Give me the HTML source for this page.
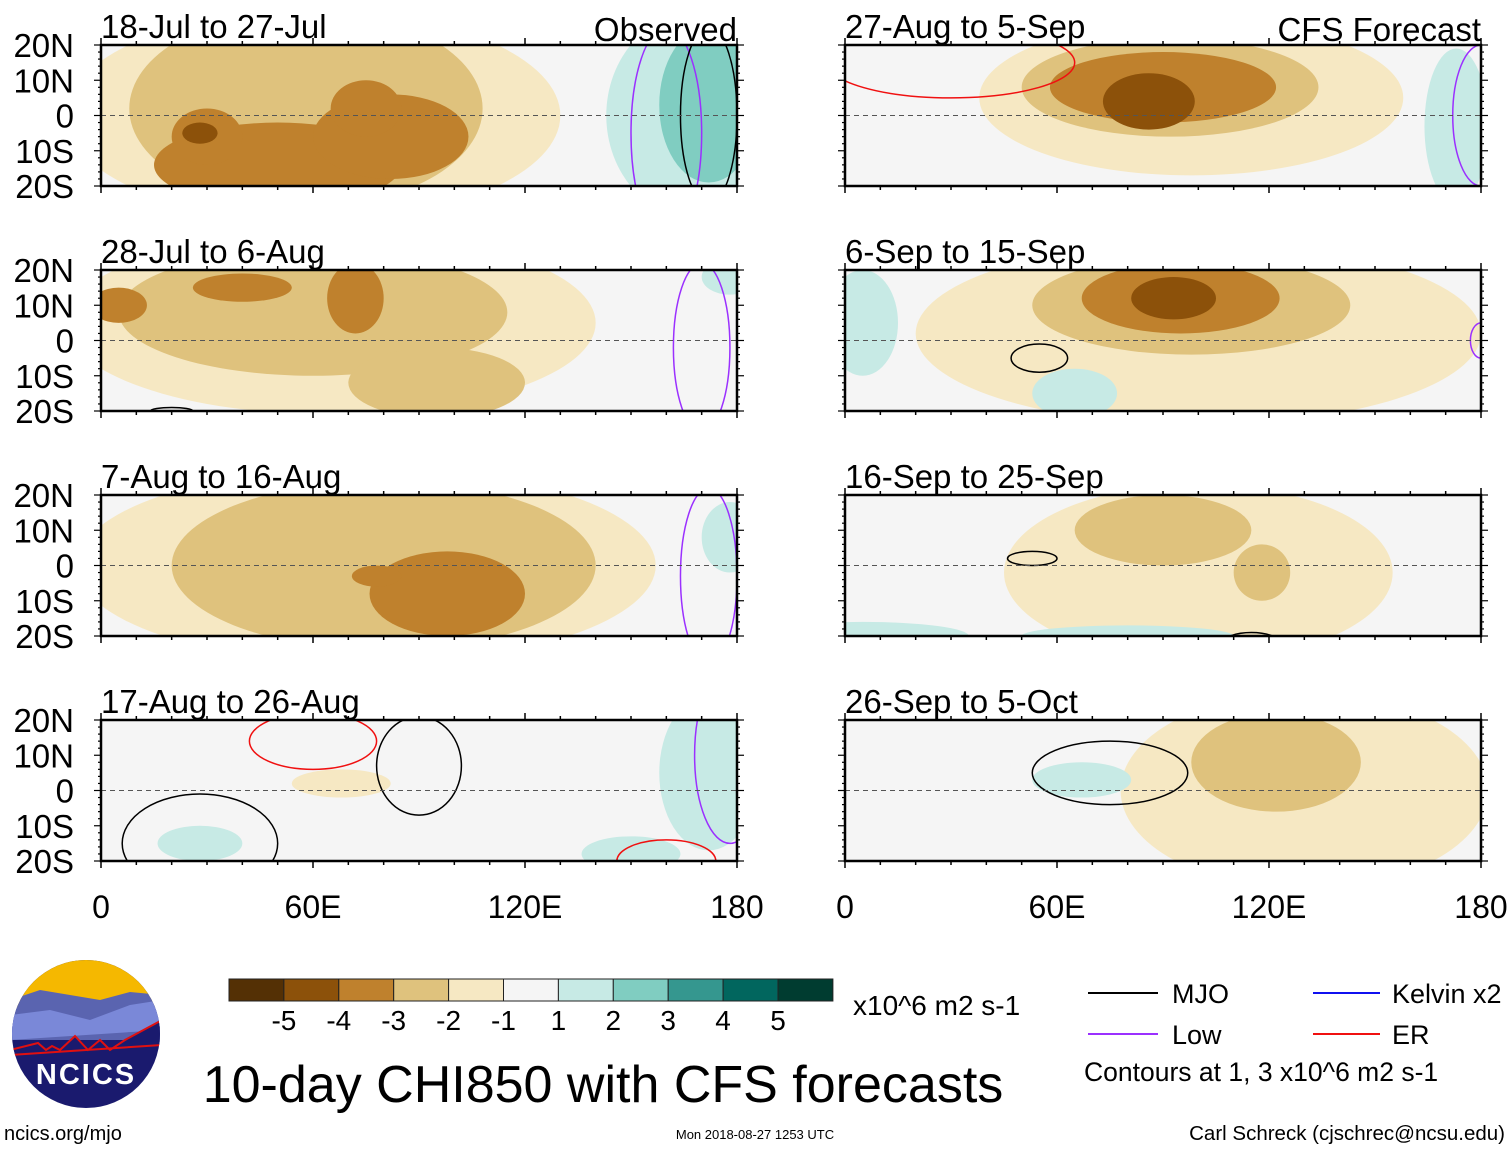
<!DOCTYPE html>
<html><head><meta charset="utf-8">
<style>
html,body{margin:0;padding:0;background:#fff;}
svg{display:block;font-family:"Liberation Sans",sans-serif;}
</style></head>
<body>
<svg id="chart" width="1510" height="1149" viewBox="0 0 1510 1149" xmlns="http://www.w3.org/2000/svg">
<g id="panels"></g>
<g id="colorbar"></g>

<text x="4" y="1140" font-size="20" fill="#000">ncics.org/mjo</text>
<g>
  <clipPath id="logoclip"><circle cx="86" cy="1034" r="74"/></clipPath>
  <g clip-path="url(#logoclip)">
    <rect x="10" y="958" width="152" height="152" fill="#1a1a6e"/>
    <rect x="10" y="958" width="152" height="50" fill="#f5b800"/>
    <path d="M10,1000 L40,990 L70,995 L100,1000 L130,992 L162,995 L162,1040 L10,1040Z" fill="#5a64b0"/>
    <path d="M10,1015 L50,1010 L90,1020 L130,1005 L162,1000 L162,1030 L10,1040Z" fill="#7a88d8"/>
    <path d="M10,1050 L38,1043 L46,1050 L52,1046 L60,1050 L75,1036 L88,1050 L100,1040 L110,1050 L125,1040 L162,1020 L162,1045 L10,1055Z" fill="#1a1a6e" stroke="#e01010" stroke-width="2"/>
  </g>
  <text x="86" y="1084" font-size="29" font-weight="bold" fill="#fff" text-anchor="middle" letter-spacing="2">NCICS</text>
</g>

<text x="603" y="1102" font-size="52" text-anchor="middle" fill="#000">10-day CHI850 with CFS forecasts</text>
<text x="853" y="1015" font-size="28" fill="#000">x10^6 m2 s-1</text>

<g>
  <line x1="1088" y1="993" x2="1158" y2="993" stroke="#000" stroke-width="2"/>
  <text x="1172" y="1003" font-size="27">MJO</text>
  <line x1="1313" y1="993" x2="1380" y2="993" stroke="#1010f0" stroke-width="2"/>
  <text x="1392" y="1003" font-size="27">Kelvin x2</text>
  <line x1="1088" y1="1034" x2="1158" y2="1034" stroke="#9b30ff" stroke-width="2"/>
  <text x="1172" y="1044" font-size="27">Low</text>
  <line x1="1313" y1="1034" x2="1380" y2="1034" stroke="#f01010" stroke-width="2"/>
  <text x="1392" y="1044" font-size="27">ER</text>
  <text x="1084" y="1081" font-size="26.5">Contours at 1, 3 x10^6 m2 s-1</text>
</g>
<text x="755" y="1139" font-size="13" text-anchor="middle">Mon 2018-08-27 1253 UTC</text>
<text x="1505" y="1140" font-size="20.5" text-anchor="end">Carl Schreck (cjschrec@ncsu.edu)</text>
</svg>
<script>
const levelColors = ["#543005","#8c510a","#bf812d","#dfc27d","#f6e8c3","#f5f5f5","#c7eae5","#80cdc1","#35978f","#01665e","#003c30"];
const levelLabels = ["-5","-4","-3","-2","-1","1","2","3","4","5"];
const panelTitles = ["18-Jul to 27-Jul","28-Jul to 6-Aug","7-Aug to 16-Aug","17-Aug to 26-Aug","27-Aug to 5-Sep","6-Sep to 15-Sep","16-Sep to 25-Sep","26-Sep to 5-Oct"];
const latTicks = [20,10,0,-10,-20];
const latLabels = ["20N","10N","0","10S","20S"];
const lonTicks = [0,60,120,180];
const lonLabels = ["0","60E","120E","180"];
// blobs: [lonCenter, latCenter, lonRadius, latRadius, level(-4..2)]
const anomP1 = [[60,0,70,30,-1],[58,2,50,28,-2],[50,-14,35,12,-3],[82,-6,22,12,-3],[75,2,10,8,-3],[30,-6,10,8,-3],[28,-5,5,3,-4],[170,0,27,30,1],[172,3,14,22,2]];
const anomP2 = [[65,5,75,26,-1],[60,8,55,18,-2],[95,-12,25,10,-2],[5,10,8,5,-3],[72,12,8,10,-3],[40,15,14,4,-3],[178,18,8,5,1]];
const anomP3 = [[75,0,82,28,-1],[80,0,60,24,-2],[98,-8,22,12,-3],[78,-3,7,3,-3],[178,8,8,10,1]];
const anomP4 = [[68,2,14,4,-1],[172,5,14,22,1],[150,-18,14,5,1],[28,-15,12,5,1]];
const anomP5 = [[98,5,60,22,-1],[92,8,42,14,-2],[90,8,32,10,-3],[86,4,13,8,-4],[173,-3,9,22,1]];
const anomP6 = [[100,2,80,26,-1],[98,10,45,14,-2],[95,12,28,10,-3],[93,12,12,6,-4],[5,5,10,15,1],[65,-15,12,7,1]];
const anomP7 = [[100,-2,55,25,-1],[90,10,25,10,-2],[118,-2,8,8,-2],[5,-20,30,4,1],[80,-20,30,3,1]];
const anomP8 = [[130,0,52,28,-1],[122,8,24,14,-2],[67,3,14,5,1]];
const anomalies = [anomP1,anomP2,anomP3,anomP4,anomP5,anomP6,anomP7,anomP8];
// contours: [lonCenter, latCenter, lonRadius, latRadius, colour-key]
const contours = [
 [[160,-5,10,30,"low"],[172,0,8,25,"mjo"],[120,-22,3,2,"er"]],
 [[170,-2,8,24,"low"],[20,-20,6,1,"mjo"]],
 [[172,-3,8,25,"low"]],
 [[90,7,12,14,"mjo"],[60,14,18,8,"er"],[28,-15,22,14,"mjo"],[178,10,10,25,"low"],[160,-20,14,6,"er"]],
 [[30,15,35,10,"er"],[180,0,8,20,"low"]],
 [[55,-5,8,4,"mjo"],[180,0,3,5,"low"]],
 [[53,2,7,2,"mjo"],[115,-22,8,3,"mjo"]],
 [[75,5,22,9,"mjo"]]
];
const contourColors = {mjo:"#000", low:"#9b30ff", er:"#f01010"};
const NS = "http://www.w3.org/2000/svg";
const panelsG = document.getElementById("panels");
function mk(tag, attrs, parent){const e=document.createElementNS(NS,tag);for(const k in attrs)e.setAttribute(k,attrs[k]);parent.appendChild(e);return e;}
const W = 636, H = 141;
anomalies.forEach((blobs, i) => {
  const col = i < 4 ? 0 : 1, row = i % 4;
  const x0 = col ? 845 : 101, y0 = 45 + row*225;
  const xs = lon => x0 + lon/180*W;
  const ys = lat => y0 + (20-lat)/40*H;
  const g = mk("g", {}, panelsG);
  
  
  const cp = mk("clipPath", {id:"clip"+i}, g);
  mk("rect", {x:x0, y:y0, width:W, height:H}, cp);
  const bg = mk("rect", {x:x0, y:y0, width:W, height:H, fill:"#f5f5f5"}, g);
  
  
  const fg = mk("g", {"clip-path":"url(#clip"+i+")"}, g);
  blobs.forEach(b => {
    const idx = 5 + b[4];
    const e = mk("ellipse", {cx:xs(b[0]), cy:ys(b[1]), rx:b[2]/180*W, ry:b[3]/40*H, fill:levelColors[idx]}, fg);
    
    
  });
  contours[i].forEach(c => {
    const e = mk("ellipse", {cx:xs(c[0]), cy:ys(c[1]), rx:c[2]/180*W, ry:c[3]/40*H, fill:"none", stroke:contourColors[c[4]], "stroke-width":1.5}, fg);
    
    
  });
  const eq = mk("line", {x1:x0, x2:x0+W, y1:ys(0), y2:ys(0), stroke:"#555", "stroke-dasharray":"5,4", "stroke-width":1}, g);
  
  
  const fr = mk("rect", {x:x0, y:y0, width:W, height:H, fill:"none", stroke:"#000", "stroke-width":2.5}, g);
  
  
  for (let lon=0; lon<=180; lon+=10){
    const len = lon%60===0 ? 7 : 4;
    mk("line", {x1:xs(lon), x2:xs(lon), y1:y0-len, y2:y0, stroke:"#000", "stroke-width":1.5}, g);
    mk("line", {x1:xs(lon), x2:xs(lon), y1:y0+H, y2:y0+H+len, stroke:"#000", "stroke-width":1.5}, g);
  }
  for (let lat=-20; lat<=20; lat+=2){
    const len = lat%10===0 ? 7 : 3;
    mk("line", {x1:x0-len, x2:x0, y1:ys(lat), y2:ys(lat), stroke:"#000", "stroke-width":1.2}, g);
    mk("line", {x1:x0+W, x2:x0+W+len, y1:ys(lat), y2:ys(lat), stroke:"#000", "stroke-width":1.2}, g);
  }
  const t = mk("text", {x:x0, y:y0-7, "font-size":33}, g);
  t.textContent = panelTitles[i];
  
  
  if (row===0){
    const s = mk("text", {x:x0+W, y:y0-4, "font-size":33, "text-anchor":"end"}, g);
    s.textContent = col ? "CFS Forecast" : "Observed";
    
    
  }
  if (col===0){
    latTicks.forEach((lat,k) => {
      const l = mk("text", {x:74, y:ys(lat)+12, "font-size":33, "text-anchor":"end"}, g);
      l.textContent = latLabels[k];
      
      
    });
  }
  if (row===3){
    lonTicks.forEach((lon,k) => {
      const l = mk("text", {x:xs(lon), y:918, "font-size":32, "text-anchor":"middle"}, g);
      l.textContent = lonLabels[k];
      
      
    });
  }
});
const cb = document.getElementById("colorbar");
levelColors.forEach((c,k) => {
  const r = mk("rect", {x:229+k*54.9, y:979, width:54.9, height:22, fill:c, stroke:"#222", "stroke-width":1}, cb);
  
  
});
levelLabels.forEach((lab,k) => {
  const t = mk("text", {x:229+(k+1)*54.9, y:1030, "font-size":28, "text-anchor":"middle"}, cb);
  t.textContent = lab;
  
  
});
</script>
</body></html>
